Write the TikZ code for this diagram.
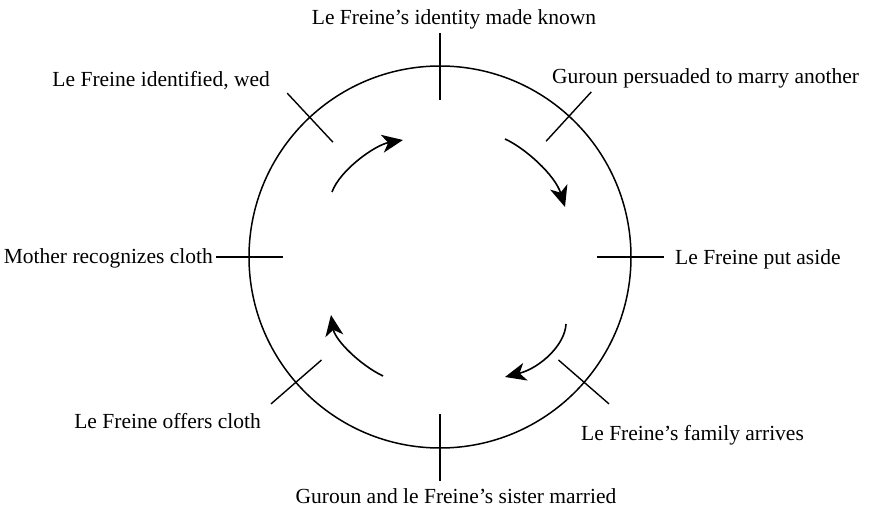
\documentclass[tikz,border=0pt]{standalone}
\usepackage{fontspec}
\setmainfont{Liberation Serif}
\usetikzlibrary{arrows.meta,calc}
\begin{document}
\begin{tikzpicture}[x=1pt,y=1pt,
  ring/.style={line width=1.5pt},
  tickmark/.style={line width=1.4pt},
  flow/.style={line width=1.6pt,-{Stealth[length=21pt,width=18pt,inset=6pt]}},
  lbl/.style={inner sep=0pt,font=\fontsize{21.5}{24}\selectfont}]
\useasboundingbox (0,0) rectangle (871,-508);
% the cycle
\coordinate (c) at (440,-257);
\draw[ring] (c) circle[radius=191];
\foreach \a in {0,47.5,90,133,180,221,270,319}
  \draw[tickmark] ($(c)+(\a:157)$) -- ($(c)+(\a:224)$);
% stage labels
\node[lbl,anchor=base] (known) at (454,-25) {Le Freine's identity made known};
\node[lbl,anchor=base west] (persuaded) at (552,-84) {Guroun persuaded to marry another};
\node[lbl,anchor=base west] (aside) at (675,-264) {Le Freine put aside};
\node[lbl,anchor=base west] (family) at (581,-440) {Le Freine's family arrives};
\node[lbl,anchor=base] (sister) at (456,-503) {Guroun and le Freine's sister married};
\node[lbl,anchor=base east] (offers) at (261,-428) {Le Freine offers cloth};
\node[lbl,anchor=base east] (mother) at (213,-263) {Mother recognizes cloth};
\node[lbl,anchor=base east] (wed) at (270,-87) {Le Freine identified, wed};
% direction of the cycle
\coordinate (a1s) at (332,-192); \coordinate (a1e) at (403,-140);
\coordinate (a2s) at (505,-139); \coordinate (a2e) at (565,-207);
\coordinate (a3s) at (566,-324); \coordinate (a3e) at (505,-377);
\coordinate (a4s) at (383,-376); \coordinate (a4e) at (331,-315);
\draw[flow] (a1s) .. controls (340,-170) and (375,-145) .. (a1e);
\draw[flow] (a2s) .. controls (525,-148) and (555,-175) .. (a2e);
\draw[flow] (a3s) .. controls (565,-345) and (540,-368) .. (a3e);
\draw[flow] (a4s) .. controls (360,-365) and (335,-340) .. (a4e);
\end{tikzpicture}
\end{document}
